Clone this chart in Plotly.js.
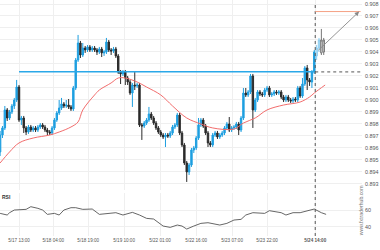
<!DOCTYPE html>
<html>
<head>
<meta charset="utf-8">
<script src="https://cdn.plot.ly/plotly-3.0.1.min.js"></script>
<style>html,body{margin:0;padding:0;background:#fff;}#chart{width:380px;height:250px;}</style>
</head>
<body>
<div id="chart"></div>
<script>
// Candle data (hourly)
const openP = [0.89567,0.89708,0.89767,0.89917,0.8985,0.899,0.8995,0.9,0.90108,0.89833,
0.8985,0.89767,0.89733,0.89775,0.8975,0.89767,0.8975,0.89775,0.89792,0.89775,
0.8975,0.89733,0.89725,0.89767,0.89833,0.89892,0.89933,0.89967,0.8995,0.89958,
0.89942,0.89925,0.901,0.90333,0.90475,0.90375,0.90433,0.90417,0.90442,0.90417,
0.90433,0.90417,0.904,0.90425,0.90392,0.904,0.90483,0.90417,0.90408,0.90425,
0.90367,0.90233,0.90217,0.90233,0.90183,0.9015,0.90058,0.90125,0.90117,0.90125,
0.89792,0.89783,0.89808,0.89833,0.89883,0.8985,0.89808,0.89767,0.89733,0.89708,
0.89692,0.89708,0.897,0.89725,0.89775,0.89792,0.89875,0.89725,0.89625,0.89475,
0.894,0.89458,0.89583,0.896,0.89683,0.89792,0.89833,0.89783,0.89725,0.89642,
0.89625,0.89708,0.89725,0.89692,0.89708,0.89725,0.89767,0.898,0.8975,0.89767,
0.89775,0.898,0.8975,0.8985,0.90058,0.90042,0.90067,0.902,0.89917,0.9,
0.90067,0.9005,0.90042,0.90083,0.901,0.90042,0.9005,0.90067,0.90058,0.90067,
0.90025,0.9,0.90025,0.9,0.89992,0.90008,0.9,0.901,0.90033,0.90133,
0.90267,0.90167,0.9015,0.90233];
const highP = [0.89742,0.89783,0.8995,0.89933,0.89917,0.89967,0.90017,0.90167,0.90125,0.89867,
0.89867,0.89783,0.89792,0.89792,0.89783,0.89783,0.89792,0.89808,0.89808,0.89792,
0.89767,0.8975,0.89783,0.8985,0.89908,0.9,0.90017,0.89983,0.9,0.90008,
0.89958,0.90117,0.9035,0.90542,0.90492,0.90475,0.9045,0.90458,0.90458,0.9045,
0.9045,0.90433,0.90442,0.90442,0.90417,0.90517,0.905,0.90433,0.90442,0.90442,
0.90383,0.9025,0.9025,0.9025,0.902,0.90167,0.90142,0.90233,0.90142,0.90142,
0.89808,0.89825,0.8985,0.89942,0.899,0.89867,0.89825,0.89783,0.8975,0.89725,
0.89725,0.89725,0.89742,0.89792,0.89808,0.89892,0.89892,0.89742,0.89642,0.89492,
0.89475,0.896,0.89617,0.897,0.8985,0.8985,0.8985,0.898,0.89742,0.89658,
0.89725,0.89742,0.89742,0.89725,0.89742,0.89783,0.89817,0.89858,0.89783,0.89792,
0.89817,0.89817,0.89867,0.901,0.901,0.90083,0.90217,0.90217,0.90017,0.90083,
0.90083,0.90067,0.901,0.90117,0.90117,0.90067,0.90083,0.90083,0.90083,0.90083,
0.90042,0.90042,0.90042,0.90017,0.90025,0.90025,0.90117,0.90117,0.90183,0.90283,
0.90292,0.90183,0.9025,0.90417];
const lowP = [0.89533,0.89683,0.8975,0.89825,0.89833,0.89883,0.89925,0.89983,0.89817,0.89792,
0.89725,0.89708,0.89717,0.89733,0.89733,0.89733,0.89733,0.89758,0.89758,0.89733,
0.89708,0.89708,0.89708,0.8975,0.89817,0.89875,0.89917,0.89933,0.89933,0.89925,
0.89908,0.89908,0.90083,0.90317,0.9035,0.90358,0.90392,0.904,0.904,0.904,
0.904,0.90375,0.90383,0.90358,0.90367,0.90383,0.904,0.90375,0.90392,0.9035,
0.90217,0.90133,0.902,0.90125,0.90125,0.90042,0.89942,0.90083,0.901,0.89775,
0.89667,0.89767,0.89792,0.89817,0.89833,0.89792,0.8975,0.89717,0.89692,0.89675,
0.89608,0.89683,0.89683,0.89708,0.89758,0.89775,0.89708,0.89608,0.89458,0.89317,
0.89375,0.89442,0.89558,0.89583,0.89667,0.89775,0.89767,0.89708,0.89608,0.89608,
0.89608,0.89692,0.89675,0.89675,0.89692,0.89708,0.8975,0.89733,0.89733,0.8975,
0.89758,0.89708,0.89733,0.89833,0.90025,0.90025,0.9005,0.89767,0.899,0.89983,
0.90033,0.90025,0.90025,0.90067,0.90025,0.90025,0.90033,0.90042,0.90042,0.90008,
0.89983,0.89983,0.89983,0.89975,0.89975,0.89983,0.89983,0.90017,0.90017,0.90117,
0.90083,0.90117,0.901,0.90217];
const closeP = [0.89708,0.89767,0.89917,0.8985,0.899,0.8995,0.9,0.90108,0.89833,0.8985,
0.89767,0.89733,0.89775,0.8975,0.89767,0.8975,0.89775,0.89792,0.89775,0.8975,
0.89733,0.89725,0.89767,0.89833,0.89892,0.89933,0.89967,0.8995,0.89958,0.89942,
0.89925,0.901,0.90333,0.90475,0.90375,0.90433,0.90417,0.90442,0.90417,0.90433,
0.90417,0.904,0.90425,0.90392,0.904,0.90483,0.90417,0.90408,0.90425,0.90367,
0.90233,0.90217,0.90233,0.90183,0.9015,0.90058,0.90125,0.90117,0.90125,0.89792,
0.89783,0.89808,0.89833,0.89883,0.8985,0.89808,0.89767,0.89733,0.89708,0.89692,
0.89708,0.897,0.89725,0.89775,0.89792,0.89875,0.89725,0.89625,0.89475,0.894,
0.89458,0.89583,0.896,0.89683,0.89792,0.89833,0.89783,0.89725,0.89642,0.89625,
0.89708,0.89725,0.89692,0.89708,0.89725,0.89767,0.898,0.8975,0.89767,0.89775,
0.898,0.8975,0.8985,0.90058,0.90042,0.90067,0.902,0.89917,0.9,0.90067,
0.9005,0.90042,0.90083,0.901,0.90042,0.9005,0.90067,0.90058,0.90067,0.90025,
0.9,0.90025,0.9,0.89992,0.90008,0.9,0.901,0.90033,0.90133,0.90267,
0.90167,0.9015,0.90233,0.904];

// candles formed after the signal
const afterIdx   = [134, 135, 136, 137];
const afterOpen  = [0.90367, 0.90433, 0.90392, 0.904];
const afterHigh  = [0.90458, 0.90517, 0.90592, 0.90517];
const afterLow   = [0.90333, 0.904, 0.90375, 0.90375];
const afterClose = [0.90433, 0.905, 0.905, 0.905];

// moving average
const maIdx = [0,4,8,14,21,25,30,33,35,40,42,47,50,53,58,62,68,73,79,85,90,99,103,108,113,120,127,131,133,137.6];
const maVal = [0.89475,0.89567,0.89642,0.89683,0.89708,0.89733,0.89775,0.89817,0.89917,0.90042,
0.90083,0.90142,0.90183,0.90183,0.9015,0.90108,0.90042,0.8995,0.8985,0.898,
0.89767,0.89758,0.89808,0.8985,0.89917,0.89958,0.89983,0.90025,0.90058,0.90125];

// RSI
const rsiIdx = [0,3,4,6,11,13,16,18,20,23,25,27,30,32,35,39,42,47,49,52,55,56,59,62,65,69,72,75,77,79,82,85,88,90,93,96,99,102,104,107,112,114,119,121,124,127,130,133,136,138];
const rsiVal = [56,54,56.8,60,60.8,64,62,60,54.8,56,54,60,62.8,62.8,60.8,61.2,54.8,56,56.8,54,56,57.2,54,50,49.2,40.8,39.2,42,40.8,37.2,40.8,44,44.8,44,42,44,48,48.8,54,56.8,56,59.2,56.8,54,56.8,56.8,59.2,61.2,56.8,54.8];

// levels & labels
const supportLevel = 0.90236;
const targetLevel = 0.90737;
const signalIdx = 133.4;
const arrowFrom = [134.1, 0.90403];
const arrowTo = [152, 0.90737];
const xTickIdx = [8, 22.5, 37.3, 52.5, 67.7, 83, 98.2, 113, 133.4];
const xTickText = ['5/17 13:00','5/18 04:00','5/18 19:00','5/19 10:00','5/22 01:00','5/22 16:00','5/23 07:00','5/23 22:00','<b>5/24 14:00</b>'];
const priceTicks = [0.893,0.894,0.895,0.896,0.897,0.898,0.899,0.900,0.901,0.902,0.903,0.904,0.905,0.906,0.907,0.908];
const rsiTicks = [40, 60];

const idx = openP.map((_, i) => i);

const traces = [
  {type:'candlestick', x: idx, open: openP, high: highP, low: lowP, close: closeP,
   xaxis:'x', yaxis:'y', hoverinfo:'skip', whiskerwidth:0,
   increasing:{line:{color:'#1e9fe0', width:1}, fillcolor:'#1e9fe0'},
   decreasing:{line:{color:'#2b2b2b', width:1}, fillcolor:'#2b2b2b'}},
  {type:'candlestick', x: afterIdx.slice(0,2), open: afterOpen.slice(0,2), high: afterHigh.slice(0,2), low: afterLow.slice(0,2), close: afterClose.slice(0,2),
   xaxis:'x', yaxis:'y', hoverinfo:'skip', whiskerwidth:0,
   increasing:{line:{color:'#8dcdf0', width:1}, fillcolor:'#c4e6f8'},
   decreasing:{line:{color:'#8dcdf0', width:1}, fillcolor:'#c4e6f8'}},
  {type:'candlestick', x: afterIdx.slice(2), open: afterOpen.slice(2), high: afterHigh.slice(2), low: afterLow.slice(2), close: afterClose.slice(2),
   xaxis:'x', yaxis:'y', hoverinfo:'skip', whiskerwidth:0,
   increasing:{line:{color:'#777', width:1}, fillcolor:'#ffffff'},
   decreasing:{line:{color:'#777', width:1}, fillcolor:'#ffffff'}},
  {type:'scatter', mode:'lines', x: maIdx, y: maVal, xaxis:'x', yaxis:'y',
   line:{color:'#f26d6d', width:1, shape:'spline'}, hoverinfo:'skip'},
  {type:'scatter', mode:'lines', x: rsiIdx, y: rsiVal, xaxis:'x', yaxis:'y2',
   line:{color:'#555', width:0.9}, hoverinfo:'skip'}
];

const layout = {
  width:380, height:250,
  margin:{l:0, r:18, t:0, b:14},
  paper_bgcolor:'#ffffff', plot_bgcolor:'#ffffff',
  showlegend:false,
  boxgap:0.15,
  font:{family:'Liberation Sans, Arial, sans-serif', color:'#555'},
  xaxis:{range:[-0.05,153.2], anchor:'y2', tickvals:xTickIdx, ticktext:xTickText,
         tickfont:{size:4.6, color:'#555'}, showgrid:true, gridcolor:'#efefef', gridwidth:1,
         zeroline:false, showline:false, ticks:'', rangeslider:{visible:false}, fixedrange:true},
  yaxis:{domain:[0.195,1], range:[0.8925,0.908333], side:'right', tickvals:priceTicks,
         tickformat:'.3f', tickfont:{size:5.4, color:'#555'}, showgrid:true, gridcolor:'#efefef',
         zeroline:false, showline:false, ticks:'', ticklabelstandoff:2},
  yaxis2:{domain:[0,0.182], range:[28.86,80.36], side:'right', tickvals:rsiTicks,
          tickfont:{size:5.4, color:'#555'}, showgrid:true, gridcolor:'#efefef',
          zeroline:false, showline:false, ticks:'', ticklabelstandoff:2},
  shapes:[
    {type:'line', xref:'x', yref:'y', x0:8, x1:signalIdx, y0:supportLevel, y1:supportLevel,
     line:{color:'#2aa8e8', width:1.5}},
    {type:'line', xref:'x', yref:'y', x0:signalIdx, x1:153.2, y0:supportLevel-0.00002, y1:supportLevel-0.00002,
     line:{color:'#555', width:1, dash:'dot'}},
    {type:'line', xref:'x', yref:'paper', x0:signalIdx, x1:signalIdx, y0:0, y1:0.988,
     line:{color:'#555', width:1, dash:'dot'}},
    {type:'line', xref:'x', yref:'y', x0:signalIdx, x1:152.6, y0:targetLevel, y1:targetLevel,
     line:{color:'#f5a185', width:1}}
  ],
  annotations:[
    {xref:'x', yref:'y', x:arrowTo[0], y:arrowTo[1], axref:'x', ayref:'y', ax:arrowFrom[0], ay:arrowFrom[1],
     text:'', showarrow:true, arrowhead:2, arrowsize:1, arrowwidth:0.9, arrowcolor:'#888'},
    {xref:'paper', yref:'paper', x:0, y:0.165, xanchor:'left', yanchor:'middle', text:'<b>RSI</b>',
     showarrow:false, font:{size:5, color:'#333'}},
    {xref:'paper', yref:'paper', x:0.998, y:0.11, xanchor:'center', yanchor:'middle', textangle:-90,
     text:'www.fxtraderhub.com', showarrow:false, font:{size:5.2, color:'#777'}}
  ]
};

Plotly.newPlot('chart', traces, layout, {staticPlot:true, displayModeBar:false});
</script>
</body>
</html>
